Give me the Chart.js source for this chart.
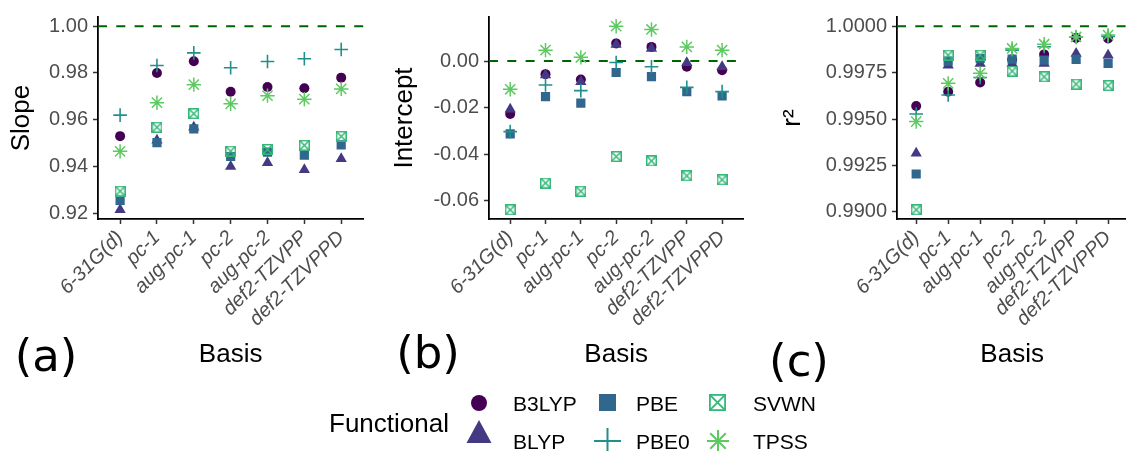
<!DOCTYPE html>
<html>
<head>
<meta charset="utf-8">
<script src="https://cdn.jsdelivr.net/npm/chart.js@4/dist/chart.umd.min.js"></script>
<style>
  html, body { margin: 0; padding: 0; background: #fff; overflow: hidden; }
  #wrap { position: relative; width: 1126px; height: 451px; overflow: hidden; font-family: "Liberation Sans", Arial, sans-serif; }
  canvas.panel { position: absolute; top: 0; }
  .tag { position: absolute; font-family: "DejaVu Sans", sans-serif; font-size: 45px; line-height: 1; color: #000; transform: translate(-50%, -50%); }
  .leg { position: absolute; font-size: 21px; line-height: 1; color: #000; transform: translateY(-50%); white-space: nowrap; }
  #legTitle { font-size: 26px; }
  #legIcons { position: absolute; left: 0; top: 0; }
</style>
</head>
<body>
<div id="wrap">
  <canvas id="slope" class="panel" width="372" height="380" style="left:0px"></canvas>
  <canvas id="intercept" class="panel" width="380" height="380" style="left:372px"></canvas>
  <canvas id="rsq" class="panel" width="384" height="380" style="left:752px"></canvas>

  <div class="tag" style="left:46px; top:355px">(a)</div>
  <div class="tag" style="left:428px; top:352px">(b)</div>
  <div class="tag" style="left:799px; top:360px">(c)</div>

  <canvas id="legIcons" width="1126" height="451"></canvas>
  <div class="leg" id="legTitle" style="left:329px; top:423px">Functional</div>
  <div class="leg" style="left:513px; top:403px">B3LYP</div>
  <div class="leg" style="left:513px; top:441px">BLYP</div>
  <div class="leg" style="left:636px; top:403px">PBE</div>
  <div class="leg" style="left:636px; top:441px">PBE0</div>
  <div class="leg" style="left:753px; top:403px">SVWN</div>
  <div class="leg" style="left:753px; top:441px">TPSS</div>
</div>

<script>
// basis sets along x, functionals as series
const BASIS = ["6-31G(d)", "pc-1", "aug-pc-1", "pc-2", "aug-pc-2", "def2-TZVPP", "def2-TZVPPD"];
const FUNCTIONALS = ["B3LYP", "BLYP", "PBE", "PBE0", "SVWN", "TPSS"];
const COLORS = ["#440154", "#443A83", "#31668E", "#21908C", "#35B779", "#5EC962"];

// regression slope, one array per functional (same order as FUNCTIONALS)
const SLOPE_B3LYP = [0.953, 0.980, 0.985, 0.972, 0.974, 0.9735, 0.978];
const SLOPE_BLYP  = [0.9215, 0.9512, 0.9568, 0.940, 0.9416, 0.9386, 0.9433];
const SLOPE_PBE   = [0.9255, 0.9502, 0.9561, 0.9443, 0.9462, 0.9449, 0.9493];
const SLOPE_PBE0  = [0.962, 0.9832, 0.9886, 0.9822, 0.9849, 0.9861, 0.990];
const SLOPE_SVWN  = [0.9295, 0.9568, 0.9626, 0.9466, 0.9473, 0.9491, 0.9529];
const SLOPE_TPSS  = [0.9465, 0.9673, 0.975, 0.9668, 0.9703, 0.9688, 0.9732];

// regression intercept
const INT_B3LYP = [-0.0227, -0.0056, -0.0079, 0.0076, 0.0061, -0.0024, -0.0039];
const INT_BLYP  = [-0.0207, -0.0060, -0.0089, 0.0071, 0.0054, -0.0007, -0.0024];
const INT_PBE   = [-0.0313, -0.0153, -0.0181, -0.0049, -0.0067, -0.0131, -0.0150];
const INT_PBE0  = [-0.0303, -0.0103, -0.0127, -0.0006, -0.0024, -0.0113, -0.0131];
const INT_SVWN  = [-0.0639, -0.0524, -0.0559, -0.0410, -0.0429, -0.0493, -0.0510];
const INT_TPSS  = [-0.0121, 0.0047, 0.0016, 0.0150, 0.0136, 0.0061, 0.0047];

// coefficient of determination
const RSQ_B3LYP = [0.99570, 0.99647, 0.99697, 0.99820, 0.99848, 0.99937, 0.99934];
const RSQ_BLYP  = [0.99316, 0.99790, 0.99799, 0.99799, 0.99799, 0.99853, 0.99844];
const RSQ_PBE   = [0.99204, 0.99812, 0.99826, 0.99823, 0.99817, 0.99821, 0.99800];
const RSQ_PBE0  = [0.99527, 0.99629, 0.99724, 0.99871, 0.99889, 0.99942, 0.99945];
const RSQ_SVWN  = [0.99011, 0.99844, 0.99844, 0.99758, 0.99727, 0.99688, 0.99680];
const RSQ_TPSS  = [0.99486, 0.99692, 0.99746, 0.99880, 0.99903, 0.99942, 0.99952];

const SLOPE_TICKS = [0.92, 0.94, 0.96, 0.98, 1.00];
const INT_TICKS = [-0.06, -0.04, -0.02, 0.00];
const RSQ_TICKS = [0.9900, 0.9925, 0.9950, 0.9975, 1.0000];

const FONT = "'Liberation Sans', Arial, sans-serif";

// boxed X marker (SVWN)
function boxCross(size, color, lw) {
  const c = document.createElement("canvas");
  c.width = size; c.height = size;
  const g = c.getContext("2d");
  const h = lw / 2;
  g.strokeStyle = color; g.lineWidth = lw;
  g.strokeRect(h, h, size - lw, size - lw);
  g.beginPath();
  g.moveTo(h, h); g.lineTo(size - h, size - h);
  g.moveTo(size - h, h); g.lineTo(h, size - h);
  g.stroke();
  return c;
}

const MARKERS = [
  { pointStyle: "circle",   pointRadius: 5, fill: true },
  { pointStyle: "triangle", pointRadius: 6.5, fill: true },
  { pointStyle: "rect",     pointRadius: 6.5, fill: true },
  { pointStyle: "cross",    pointRadius: 6.8, pointBorderWidth: 1.6 },
  { pointStyle: boxCross(11, COLORS[4], 1.5), pointRadius: 5.5 },
  { pointStyle: "star",     pointRadius: 7.2, pointBorderWidth: 1.5 },
];

const refLine = {
  id: "refLine",
  beforeDatasetsDraw(chart, args, opts) {
    const { ctx, chartArea: { left, right }, scales: { y } } = chart;
    const py = y.getPixelForValue(opts.value);
    ctx.save();
    ctx.strokeStyle = "#006400";
    ctx.lineWidth = 2;
    ctx.setLineDash([9, 9.3]);
    ctx.beginPath();
    ctx.moveTo(left, py);
    ctx.lineTo(right, py);
    ctx.stroke();
    ctx.restore();
  },
};

function panel(id, series, ref, ticks, digits, title, yWidth, titlePad, padRight) {
  const all = series.flat().concat([ref]);
  const lo = Math.min(...all), hi = Math.max(...all);
  const pad = (hi - lo) * 0.05;

  const datasets = FUNCTIONALS.map((name, i) => {
    const m = MARKERS[i];
    return {
      label: name,
      data: series[i].map((v, j) => ({ x: j, y: v })),
      pointStyle: m.pointStyle,
      pointRadius: m.pointRadius,
      pointBorderWidth: m.pointBorderWidth || 0,
      pointBackgroundColor: m.fill ? COLORS[i] : "rgba(0,0,0,0)",
      pointBorderColor: COLORS[i],
      showLine: false,
      order: FUNCTIONALS.length - i,
    };
  });

  return new Chart(document.getElementById(id), {
    type: "scatter",
    data: { datasets },
    plugins: [refLine],
    options: {
      responsive: false,
      animation: false,
      events: [],
      layout: { padding: { top: 17, right: padRight, left: 0, bottom: 0 } },
      plugins: {
        legend: { display: false },
        tooltip: { enabled: false },
        refLine: { value: ref },
      },
      scales: {
        x: {
          type: "linear",
          min: -0.6,
          max: BASIS.length - 0.4,
          afterBuildTicks: (s) => { s.ticks = BASIS.map((_, i) => ({ value: i })); },
          afterFit: (s) => { s.height = 161; },
          ticks: {
            autoSkip: false, minRotation: 45, maxRotation: 45, padding: 2,
            color: "#4D4D4D",
            font: { family: FONT, size: 20, style: "italic" },
            callback: (v, i) => BASIS[i],
          },
          grid: { drawOnChartArea: false, tickLength: 5, tickColor: "#333", tickWidth: 1.5 },
          border: { color: "#000", width: 1.8 },
          title: { display: true, text: "Basis", color: "#000", font: { family: FONT, size: 26 }, padding: { top: 0, bottom: 9.4 } },
        },
        y: {
          min: lo - pad,
          max: hi + pad,
          afterBuildTicks: (s) => { s.ticks = ticks.map((v) => ({ value: v })); },
          afterFit: (s) => { s.width = yWidth; },
          ticks: {
            padding: 5, color: "#4D4D4D",
            font: { family: FONT, size: 20 },
            callback: (v) => v.toFixed(digits),
          },
          grid: { drawOnChartArea: false, tickLength: 5, tickColor: "#333", tickWidth: 1.5 },
          border: { color: "#000", width: 1.8 },
          title: { display: true, text: title, color: "#000", font: { family: FONT, size: 26 }, padding: { top: titlePad, bottom: 0 } },
        },
      },
    },
  });
}

panel("slope",
  [SLOPE_B3LYP, SLOPE_BLYP, SLOPE_PBE, SLOPE_PBE0, SLOPE_SVWN, SLOPE_TPSS],
  1.0, SLOPE_TICKS, 2, "Slope", 98, 6.4, 4.6);
panel("intercept",
  [INT_B3LYP, INT_BLYP, INT_PBE, INT_PBE0, INT_SVWN, INT_TPSS],
  0.0, INT_TICKS, 2, "Intercept", 117, 17.4, 0);
panel("rsq",
  [RSQ_B3LYP, RSQ_BLYP, RSQ_PBE, RSQ_PBE0, RSQ_SVWN, RSQ_TPSS],
  1.0, RSQ_TICKS, 4, "r\u00B2", 145, 25.4, 0);

// legend keys
(function drawKeys() {
  const g = document.getElementById("legIcons").getContext("2d");
  g.fillStyle = COLORS[0];
  g.beginPath(); g.arc(479, 403, 8, 0, Math.PI * 2); g.fill();

  g.fillStyle = COLORS[1];
  g.beginPath(); g.moveTo(479, 420); g.lineTo(491.5, 443); g.lineTo(466.5, 443); g.closePath(); g.fill();

  g.fillStyle = COLORS[2];
  g.fillRect(599, 394, 17, 17);

  g.strokeStyle = COLORS[3]; g.lineWidth = 2;
  g.beginPath(); g.moveTo(594, 441); g.lineTo(621, 441); g.moveTo(607.5, 428); g.lineTo(607.5, 454); g.stroke();

  g.drawImage(boxCross(17, COLORS[4], 1.8), 709, 394);

  g.strokeStyle = COLORS[5]; g.lineWidth = 2;
  g.beginPath();
  const cx = 718, cy = 441, r = 11;
  for (let k = 0; k < 4; k++) {
    const a = k * Math.PI / 4;
    g.moveTo(cx - r * Math.cos(a), cy - r * Math.sin(a));
    g.lineTo(cx + r * Math.cos(a), cy + r * Math.sin(a));
  }
  g.stroke();
})();
</script>
</body>
</html>
